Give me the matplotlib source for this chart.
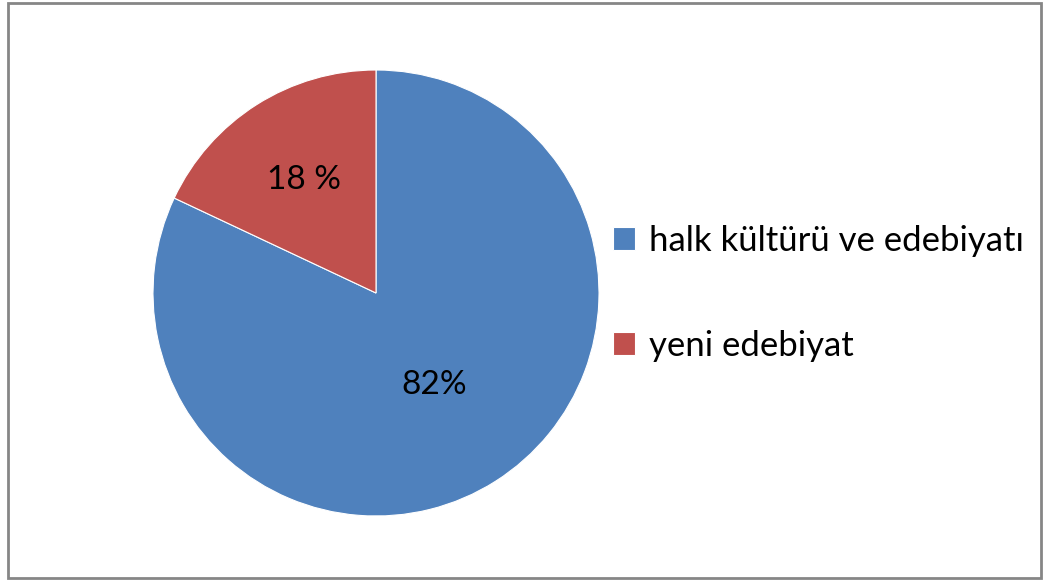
import matplotlib.pyplot as plt
from matplotlib.patches import Rectangle
import numpy as np

# Data for the pie
categories = ['halk kültürü ve edebiyatı', 'yeni edebiyat']
shares = [82, 18]
pct_labels = ['82%', '18 %']
colors = ['#4F81BD', '#C0504D']

plt.rcParams['font.family'] = ['Lato', 'DejaVu Sans']

fig = plt.figure(figsize=(10.49, 5.81), dpi=100)
ax = fig.add_axes([153 / 1049, 65 / 581, 446 / 1049, 446 / 581])

wedges, _ = ax.pie(shares, colors=colors, startangle=90, counterclock=False,
                   wedgeprops=dict(edgecolor='white', linewidth=0.8))
ax.set_xlim(-1, 1)
ax.set_ylim(-1, 1)
ax.set_aspect('equal')

# Percent labels inside each slice
label_dist = [0.49, 0.6]
for w, txt, d in zip(wedges, pct_labels, label_dist):
    mid = np.deg2rad((w.theta1 + w.theta2) / 2)
    ax.text(d * np.cos(mid), d * np.sin(mid), txt, ha='center', va='center',
            fontsize=24, color='black')

leg = fig.legend(wedges, categories, loc='center left',
                 bbox_to_anchor=(596 / 1049, 0.495), frameon=False,
                 fontsize=25, handlelength=0.62, handleheight=0.62,
                 handletextpad=0.4, labelspacing=2.1, borderpad=0)

# Outer chart border
fig.patches.append(Rectangle((8 / 1049, 3 / 581), 1033 / 1049, 575 / 581,
                             transform=fig.transFigure, fill=False,
                             edgecolor='#868686', linewidth=2))

plt.savefig('out.png', dpi=100)
